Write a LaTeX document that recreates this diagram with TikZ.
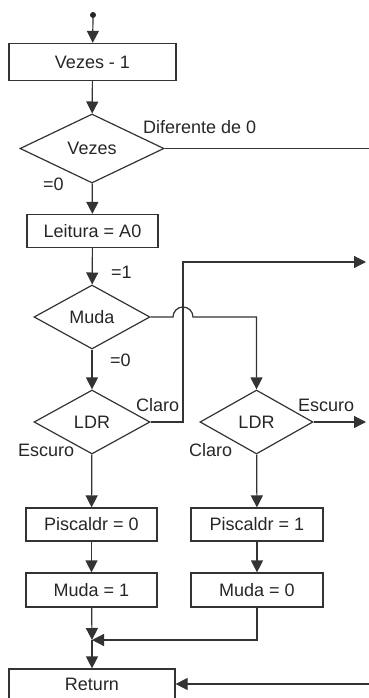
\documentclass[tikz,border=0pt]{standalone}
\usepackage{fontspec}
\setmainfont{Liberation Sans}
\usetikzlibrary{shapes.geometric,arrows.meta}
\begin{document}
\begin{tikzpicture}[x=1pt,y=-1pt,
  every node/.style={font=\fontsize{18}{20}\selectfont,text=black!85},
  box/.style={draw=black!80,line width=1.2pt,inner sep=0pt,minimum width=#1,minimum height=33pt},
  dia/.style={draw=black!80,line width=1.2pt,diamond,shape aspect=2,inner sep=0pt},
  lbl/.style={anchor=west,inner sep=0pt},
  ln/.style={draw=black!80,line width=1.2pt},
  arr/.style={ln,-{Triangle[length=12pt,width=12pt]}}]
\useasboundingbox (0,0) rectangle (369,698);
\node[circle,fill=black!85,inner sep=0pt,minimum size=6pt] (s) at (93,15) {};
\node[box=167pt,minimum height=37pt] (b1) at (92.5,62) {Vezes - 1};
\node[dia,minimum width=144pt,minimum height=69pt] (d1) at (92,148.5) {Vezes};
\node[box=131pt] (b2) at (92.5,231) {Leitura = A0};
\node[dia,minimum width=116pt,minimum height=64pt] (d2) at (92,317) {Muda};
\node[dia,minimum width=116pt,minimum height=64pt] (d3) at (92,422) {LDR};
\node[dia,minimum width=113pt,minimum height=64pt] (d4) at (256.5,422) {LDR};
\node[box=131pt] (p0) at (91.5,524.5) {Piscaldr = 0};
\node[box=132pt] (p1) at (257,524.5) {Piscaldr = 1};
\node[box=131pt,minimum height=34pt] (m1) at (91.5,590) {Muda = 1};
\node[box=132pt,minimum height=34pt] (m0) at (257,590) {Muda = 0};
\node[box=166pt,minimum height=30pt] (r) at (92,684) {Return};
\coordinate (mg) at (92,640);
\coordinate (eR1) at (369,148.5);
\coordinate (eR2) at (366,262);
\coordinate (eR3) at (366,422);
\coordinate (eR4) at (369,684);
\coordinate (jx) at (183,262);
% connectors
\draw[arr] (s) -- (b1);
\draw[arr] (b1) -- (d1);
\draw[ln] (d1.east) -- (eR1);
\draw[arr] (d1) -- (b2);
\draw[arr] (b2) -- (d2);
\draw[arr] (d2) -- (d3);
\draw[arr] (d2.east) -- (173,317) arc[start angle=180,end angle=0,radius=10pt] -- (d4.north |- d2.east) -- (d4.north);
\draw[arr] (d3.east) -| (jx) -- (eR2);
\draw[arr] (d4.east) -- (eR3);
\draw[arr] (d3) -- (p0);
\draw[arr] (d4) -- (p1);
\draw[arr] (p0) -- (m1);
\draw[arr] (p1) -- (m0);
\draw[arr] (m1) -- (mg);
\draw[arr] (m0) |- (mg);
\draw[arr] (mg) -- (r);
\draw[arr] (eR4) -- (r);
% labels
\node[lbl] (t1) at (143,127) {Diferente de 0};
\node[lbl] (t2) at (43,184) {=0};
\node[lbl] (t3) at (111,272) {=1};
\node[lbl] (t4) at (110,360) {=0};
\node[lbl] (t5) at (136,405) {Claro};
\node[lbl] (t6) at (18,450) {Escuro};
\node[lbl] (t7) at (298,405) {Escuro};
\node[lbl] (t8) at (189,450) {Claro};
\end{tikzpicture}
\end{document}
